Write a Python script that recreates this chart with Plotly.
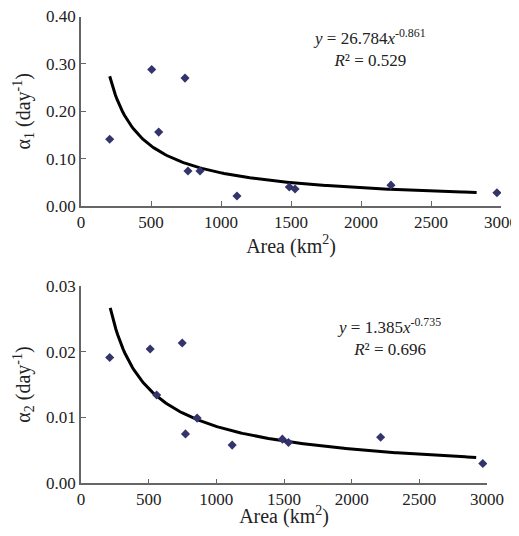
import numpy as np
import plotly.graph_objects as go

# ---- data ----
area_top = [205, 505, 743, 555, 764, 850, 1114, 1488, 1529, 2214, 2971]
alpha1 = [0.141, 0.288, 0.270, 0.156, 0.074, 0.074, 0.021, 0.040, 0.036, 0.044, 0.028]

area_bot = [212, 511, 748, 559, 772, 858, 1117, 1488, 1533, 2214, 2969]
alpha2 = [0.0191, 0.0204, 0.0213, 0.0134, 0.0075, 0.0099, 0.0058, 0.0067, 0.0062, 0.0070, 0.0030]

# power-law fits shown on the chart
fit1_a, fit1_b, fit1_r2 = 26.784, -0.861, 0.529
fit2_a, fit2_b, fit2_r2 = 1.385, -0.735, 0.696
fit1_xrange = [205, 2826]
fit2_xrange = [216, 2920]

x_ticks = [0, 500, 1000, 1500, 2000, 2500, 3000]
y1_ticks = [0.0, 0.1, 0.2, 0.3, 0.4]
y2_ticks = [0.0, 0.01, 0.02, 0.03]

# page body has an 8px margin, so the figure is drawn 8px in from the corner
OFF = 8
W, H = 519 - OFF, 536 - 2 * OFF
FONT = "Liberation Serif"
MARK = "#34346c"
AX = "#666666"

x1 = np.linspace(fit1_xrange[0], fit1_xrange[1], 200)
x2 = np.linspace(fit2_xrange[0], fit2_xrange[1], 200)

fig = go.Figure()
fig.add_trace(go.Scatter(x=x1, y=fit1_a * x1 ** fit1_b, mode="lines",
                         line=dict(color="black", width=3), xaxis="x", yaxis="y",
                         showlegend=False, hoverinfo="skip"))
fig.add_trace(go.Scatter(x=area_top, y=alpha1, mode="markers",
                         marker=dict(symbol="diamond", size=7, color=MARK),
                         xaxis="x", yaxis="y", showlegend=False))
fig.add_trace(go.Scatter(x=x2, y=fit2_a * x2 ** fit2_b, mode="lines",
                         line=dict(color="black", width=3), xaxis="x2", yaxis="y2",
                         showlegend=False, hoverinfo="skip"))
fig.add_trace(go.Scatter(x=area_bot, y=alpha2, mode="markers",
                         marker=dict(symbol="diamond", size=7, color=MARK),
                         xaxis="x2", yaxis="y2", showlegend=False))

def px_x(p):
    return (p - OFF) / W

def px_y(p):
    return 1 - (p - OFF) / H

axis_common = dict(showgrid=False, zeroline=False, showline=True, linecolor=AX,
                   linewidth=1.5, ticks="inside", ticklen=5, tickcolor=AX, tickwidth=1,
                   automargin=False, ticklabeloverflow="allow",
                   tickfont=dict(family=FONT, size=17, color="#222222"))
title_font = dict(family=FONT, size=20, color="#222222")

fig.update_layout(
    width=W, height=H, margin=dict(l=0, r=0, t=0, b=0, autoexpand=False),
    paper_bgcolor="white", plot_bgcolor="white",
    font=dict(family=FONT, color="#222222"),
    xaxis=dict(domain=[px_x(81), px_x(501)], range=[0, 3000], tickvals=x_ticks,
               anchor="y", title=dict(text="Area (km<sup>2</sup>)", font=title_font, standoff=6),
               **axis_common),
    yaxis=dict(domain=[px_y(206), px_y(16.5)], range=[0, 0.4], tickvals=y1_ticks,
               tickformat=".2f", anchor="x",
               title=dict(text="α<sub>1</sub> (day<sup>-1</sup>)", font=title_font, standoff=10),
               **axis_common),
    xaxis2=dict(domain=[px_x(81), px_x(487)], range=[0, 3000], tickvals=x_ticks,
                anchor="y2", title=dict(text="Area (km<sup>2</sup>)", font=title_font, standoff=2),
                **axis_common),
    yaxis2=dict(domain=[px_y(483.3), px_y(285.7)], range=[0, 0.03], tickvals=y2_ticks,
                tickformat=".2f", anchor="x2",
                title=dict(text="α<sub>2</sub> (day<sup>-1</sup>)", font=title_font, standoff=10),
                **axis_common),
)

fig.add_annotation(xref="paper", yref="paper", x=px_x(369), y=px_y(48), showarrow=False,
                   xanchor="center", yanchor="middle", align="center",
                   font=dict(family=FONT, size=17, color="#222222"),
                   text=f"<i>y</i> = {fit1_a}<i>x</i><sup>{fit1_b}</sup><br><i>R</i>² = {fit1_r2}")
fig.add_annotation(xref="paper", yref="paper", x=px_x(389), y=px_y(337), showarrow=False,
                   xanchor="center", yanchor="middle", align="center",
                   font=dict(family=FONT, size=17, color="#222222"),
                   text=f"<i>y</i> = {fit2_a}<i>x</i><sup>{fit2_b}</sup><br><i>R</i>² = {fit2_r2}")

fig.write_html("out.html")
